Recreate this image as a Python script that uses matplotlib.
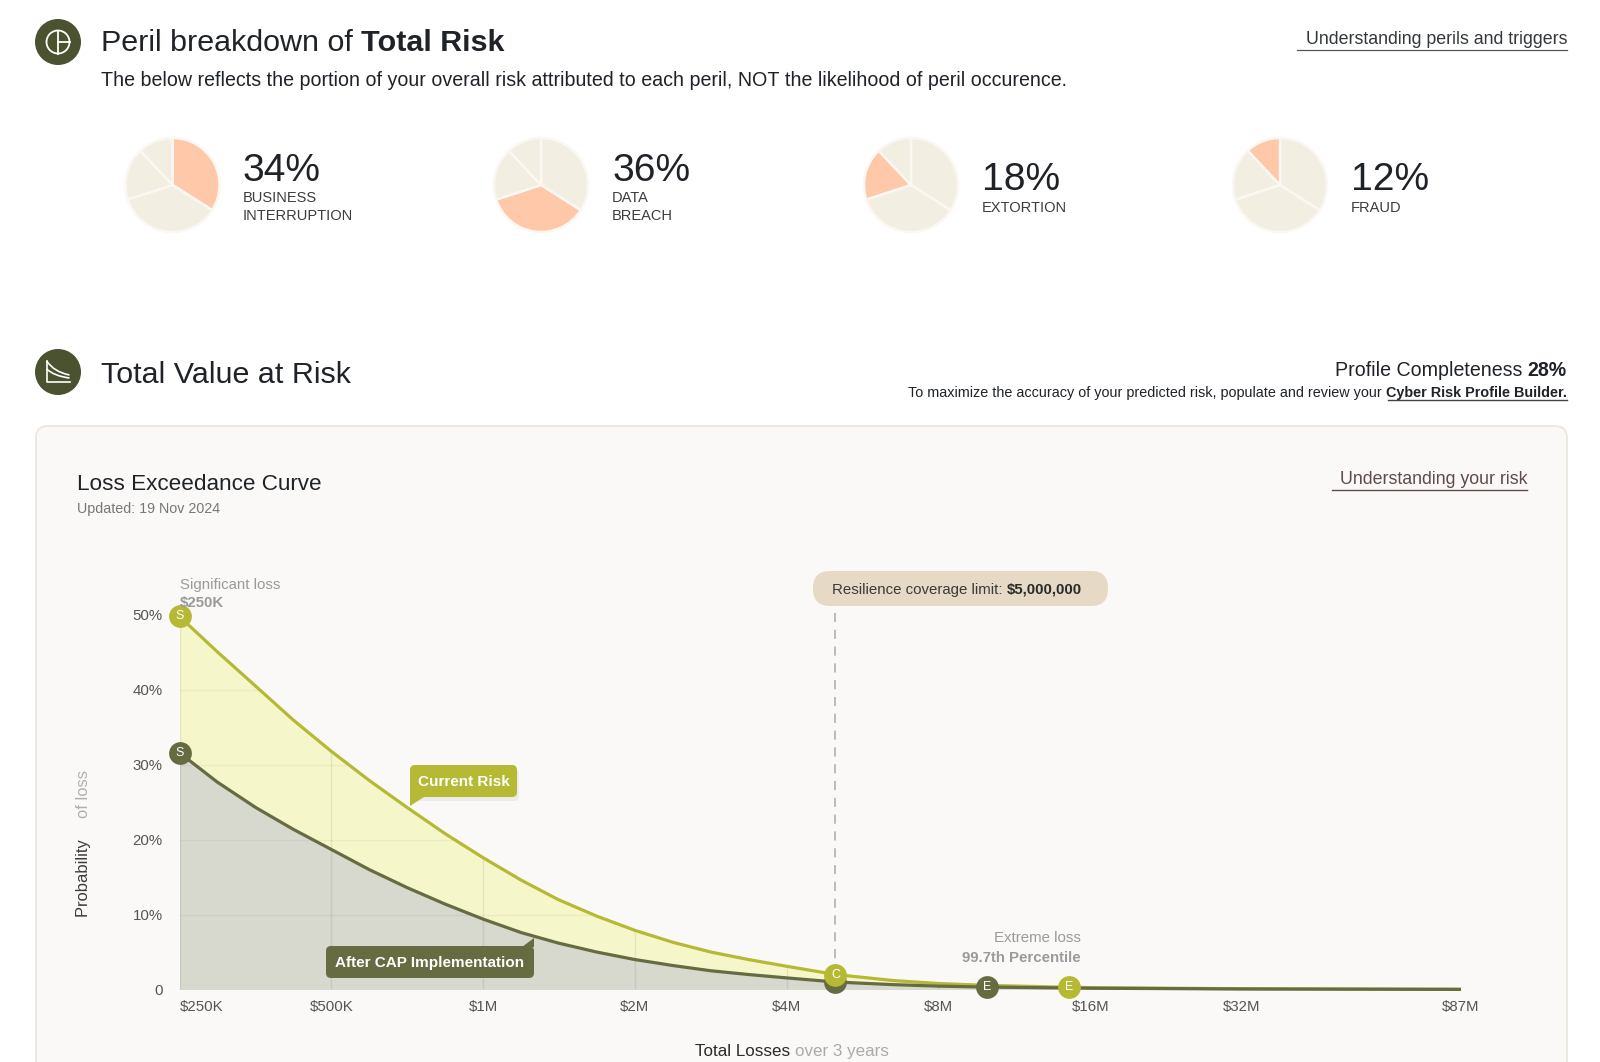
import matplotlib
matplotlib.use("Agg")
import matplotlib.pyplot as plt
from matplotlib.patches import FancyBboxPatch, Circle, Polygon, PathPatch
from matplotlib.path import Path

plt.rcParams['font.family'] = ['Liberation Sans', 'DejaVu Sans']

# ---------- data ----------
peril_names = [["BUSINESS", "INTERRUPTION"], ["DATA", "BREACH"], ["EXTORTION"], ["FRAUD"]]
peril_values = [34, 36, 18, 12]
pie_highlight_order = [0, 1, 2, 3]

loss_usd = [250e3, 297e3, 354e3, 420e3, 500e3, 595e3, 707e3, 841e3, 1e6, 1.19e6, 1.41e6,
            1.68e6, 2e6, 2.38e6, 2.83e6, 3.36e6, 4e6, 5e6, 6.5e6, 8e6, 10e6, 14.5e6,
            16e6, 32e6, 87e6]
current_risk = [49.8, 45.1, 40.5, 36.0, 31.8, 27.9, 24.3, 20.8, 17.6, 14.6, 12.0,
                9.8, 7.9, 6.3, 5.0, 4.0, 3.1, 2.0, 1.2, 0.8, 0.55, 0.3,
                0.25, 0.1, 0.02]
after_cap = [31.6, 27.7, 24.3, 21.4, 18.7, 16.0, 13.6, 11.4, 9.4, 7.6, 6.2,
             5.0, 4.0, 3.2, 2.5, 2.0, 1.55, 1.0, 0.65, 0.45, 0.32, 0.2,
             0.17, 0.07, 0.02]
x_ticks = [250e3, 500e3, 1e6, 2e6, 4e6, 8e6, 16e6, 32e6, 87e6]
x_labels = ["$250K", "$500K", "$1M", "$2M", "$4M", "$8M", "$16M", "$32M", "$87M"]
y_ticks = [0, 10, 20, 30, 40, 50]
y_labels = ["0", "10%", "20%", "30%", "40%", "50%"]
coverage_limit = 5e6
markers_current = [(250e3, 49.8, "S"), (5e6, 2.0, "C"), (14.5e6, 0.3, "E")]
markers_after = [(250e3, 31.6, "S"), (5e6, 1.0, ""), (10e6, 0.32, "E")]

# ---------- colours ----------
OLIVE = "#B5B933"
DARK = "#666B42"
ICON = "#4A5230"
INK = "#1F2328"
GREY = "#9A9A9A"
W, H = 1600, 1062

fig = plt.figure(figsize=(W / 100, H / 100), dpi=100, facecolor="white")
bg = fig.add_axes([0, 0, 1, 1], zorder=0)
fg = fig.add_axes([0, 0, 1, 1], zorder=3)
for a in (bg, fg):
    a.set_xlim(0, W); a.set_ylim(H, 0); a.axis("off"); a.patch.set_alpha(0)
renderer = fig.canvas.get_renderer()


def px(s):
    return s * 72 / 100


def seq(x, y, parts, ha="left", rotation=0):
    """Consecutive text runs. parts = (text, size_px, weight, colour)."""
    widths = []
    for t, s, w, c in parts:
        probe = fg.text(0, 0, t.replace(" ", "\u00a0"), fontsize=px(s), weight=w)
        widths.append(probe.get_window_extent(renderer).width)
        probe.remove()
    total = sum(widths)
    pos = x - total if ha == "right" else x
    if rotation == 90:
        pos = y
        for (t, s, w, c), wd in zip(parts, widths):
            fg.text(x, pos, t.replace(" ", "\u00a0"), fontsize=px(s), weight=w, color=c,
                    rotation=90, ha="center", va="bottom", rotation_mode="anchor")
            pos -= wd
        return
    for (t, s, w, c), wd in zip(parts, widths):
        fg.text(pos, y, t.replace(" ", "\u00a0"), fontsize=px(s), weight=w, color=c, va="center_baseline", ha="left")
        pos += wd


def box(ax, x0, y0, x1, y1, r, **kw):
    p = FancyBboxPatch((x0, y0), x1 - x0, y1 - y0, boxstyle=f"round,pad=0,rounding_size={r}", **kw)
    ax.add_patch(p)
    return p


# ---------- header 1 ----------
bg.add_patch(Circle((58, 42), 23, fc=ICON, ec="none"))
bg.add_patch(Circle((58, 42), 11.5, fc="none", ec="white", lw=1.3))
bg.plot([58, 58], [30.5, 53.5], color="white", lw=1.3)
bg.plot([58, 69.5], [42, 42], color="white", lw=1.3)
seq(101, 40, [("Peril breakdown of ", 30.5, "normal", INK), ("Total Risk", 30.5, "bold", INK)])
seq(101, 78, [("The below reflects the portion of your overall risk attributed to each peril, NOT the likelihood of peril occurence.", 19.6, "normal", INK)])
seq(1567, 38, [("Understanding perils and triggers", 17.8, "normal", "#33373A")], ha="right")
bg.plot([1297, 1567], [49.5, 49.5], color="#55585A", lw=0.9)

# ---------- pies ----------
pie_cx = [172.5, 541, 911, 1280]
pie_r = 48
text_x = [243, 612, 982, 1351]
for i, (cx, tx, val, names) in enumerate(zip(pie_cx, text_x, peril_values, peril_names)):
    ax = fig.add_axes([(cx - pie_r) / W, 1 - (185 + pie_r) / H, 2 * pie_r / W, 2 * pie_r / H], zorder=1)
    cols = ["#F3EEE2"] * 4
    cols[pie_highlight_order[i]] = "#FFC9A9"
    ax.pie(peril_values, startangle=90, counterclock=False, colors=cols, radius=1.0,
           wedgeprops=dict(edgecolor="#FBF8F3", linewidth=1.8))
    ax.set_xlim(-1.02, 1.02); ax.set_ylim(-1.02, 1.02)
    two = len(names) == 2
    seq(tx, 167 if two else 176, [(f"{val}%", 39, "normal", INK)])
    for j, n in enumerate(names):
        seq(tx, (197 if two else 206) + 18 * j, [(n, 14.6, "normal", "#3A3D40")])

# ---------- header 2 ----------
bg.add_patch(Circle((58, 372), 23, fc=ICON, ec="none"))
bg.plot([46.7, 46.7, 69.5], [361, 381.5, 381.5], color="white", lw=1.2)
for y0, ym, y1 in [(361, 372, 375), (369, 376, 378)]:
    bg.add_patch(PathPatch(Path([(46.7, y0), (54, ym), (69.5, y1)], [Path.MOVETO, Path.CURVE3, Path.CURVE3]),
                           fc="none", ec="white", lw=1.2))
seq(101, 372, [("Total Value at Risk", 30.5, "normal", INK)])
seq(1567, 368, [("Profile Completeness ", 19.6, "normal", INK), ("28%", 19.6, "bold", INK)], ha="right")
seq(1567, 391, [("To maximize the accuracy of your predicted risk, populate and review your ", 14.4, "normal", INK),
                ("Cyber Risk Profile Builder.", 14.4, "bold", INK)], ha="right")
bg.plot([1388, 1567], [399.5, 399.5], color="#444", lw=1.0)

# ---------- card ----------
box(bg, 36, 426, 1567, 1110, 12, fc="#FBF9F7", ec="#EBE5DA", lw=1.2)
seq(77, 482, [("Loss Exceedance Curve", 22.5, "normal", INK)])
seq(77, 507, [("Updated: 19 Nov 2024", 14.2, "normal", "#777777")])
seq(1527, 478, [("Understanding your risk", 17.8, "normal", "#5E4B4B")], ha="right")
bg.plot([1332, 1527], [490, 490], color="#5E4B4B", lw=1.0)

# ---------- chart ----------
X0, X1, Y0, Y1 = 179.5, 1461, 989.5, 615
ax = fig.add_axes([X0 / W, 1 - Y0 / H, (X1 - X0) / W, (Y0 - Y1) / H], zorder=2)
ax.patch.set_alpha(0)
ax.set_xscale("log", base=2)
ax.set_xlim(250e3, 87e6)
ax.set_ylim(0, 50)
for s in ax.spines.values():
    s.set_visible(False)
fill_cur = ax.fill_between(loss_usd, current_risk, 0, color="#F5F6CA", lw=0, zorder=1)
fill_aft = ax.fill_between(loss_usd, after_cap, 0, color="#D7D8CE", lw=0, zorder=2)
ax.set_xticks(x_ticks, x_labels)
ax.minorticks_off()
ax.set_yticks(y_ticks, y_labels)
ax.tick_params(axis="both", length=0, labelsize=px(15), labelcolor="#555555")
ax.tick_params(axis="x", pad=7.5)
ax.tick_params(axis="y", pad=12)
ax.get_xticklabels()[0].set_ha("left")
clip_poly = fill_cur.get_paths()[0]
for v in x_ticks[:-1]:
    g = ax.axvline(v, color="black", alpha=0.07, lw=1, zorder=3)
    g.set_clip_path(clip_poly, ax.transData)
for v in y_ticks[1:]:
    g = ax.axhline(v, color="black", alpha=0.04, lw=1, zorder=3)
    g.set_clip_path(clip_poly, ax.transData)
ax.axvline(coverage_limit, ymax=(Y0 - 974) / (Y0 - Y1), color="white", lw=0)
ax.plot([coverage_limit] * 2, [2.0, 51], color="#AAAAAA", lw=1.1, ls=(0, (6, 5)), zorder=4, clip_on=False)
ax.plot(loss_usd, current_risk, color=OLIVE, lw=2.3, zorder=5, clip_on=False, solid_capstyle="butt")
ax.plot(loss_usd, after_cap, color=DARK, lw=2.3, zorder=6, clip_on=False, solid_capstyle="butt")
for pts, col, z in ((markers_after, DARK, 7), (markers_current, OLIVE, 8)):
    for x, y, t in pts:
        ax.plot([x], [y], "o", ms=16.4, mfc=col, mec="none", zorder=z, clip_on=False)
        if t:
            ax.text(x, y, t, color="white", fontsize=px(12.5), ha="center", va="center", zorder=z + 0.5)

# ---------- annotations ----------
seq(180, 583, [("Significant loss", 15, "normal", GREY)])
seq(180, 602, [("$250K", 15, "bold", GREY)])
seq(1081, 937, [("Extreme loss", 15, "normal", GREY)], ha="right")
seq(1081, 956, [("99.7th Percentile", 15, "bold", GREY)], ha="right")

box(bg, 813, 571, 1108, 606, 17, fc="#E6DAC6", ec="none")
seq(832, 588.5, [("Resilience coverage limit: ", 15, "normal", "#3A3A38"), ("$5,000,000", 15, "bold", "#2A2A28")])

# shadow + Current Risk callout
box(fg, 412, 769, 519, 801, 5, fc="black", ec="none", alpha=0.05)
box(fg, 410, 765, 517, 797, 5, fc=OLIVE, ec="none")
fg.add_patch(Polygon([(410, 790), (424, 797), (410, 806)], fc=OLIVE, ec="none"))
fg.text(463.5, 781, "Current Risk", color="white", fontsize=px(15.2), weight="bold", ha="center", va="center_baseline")

box(fg, 326, 946, 534, 978, 5, fc=DARK, ec="none")
fg.add_patch(Polygon([(522, 947), (534, 938), (534, 947)], fc=DARK, ec="none"))
fg.text(430, 962, "After CAP Implementation", color="white", fontsize=px(15.2), weight="bold", ha="center", va="center_baseline")

seq(91, 876, [("Probability ", 16.5, "normal", "#3A3A3A"), ("of loss", 16.5, "normal", "#B0B0B0")], rotation=90)
seq(695, 1050, [("Total Losses ", 17, "normal", "#2A2A2A"), ("over 3 years", 17, "normal", "#AAAAAA")])

fig.savefig("out.png", dpi=100)
